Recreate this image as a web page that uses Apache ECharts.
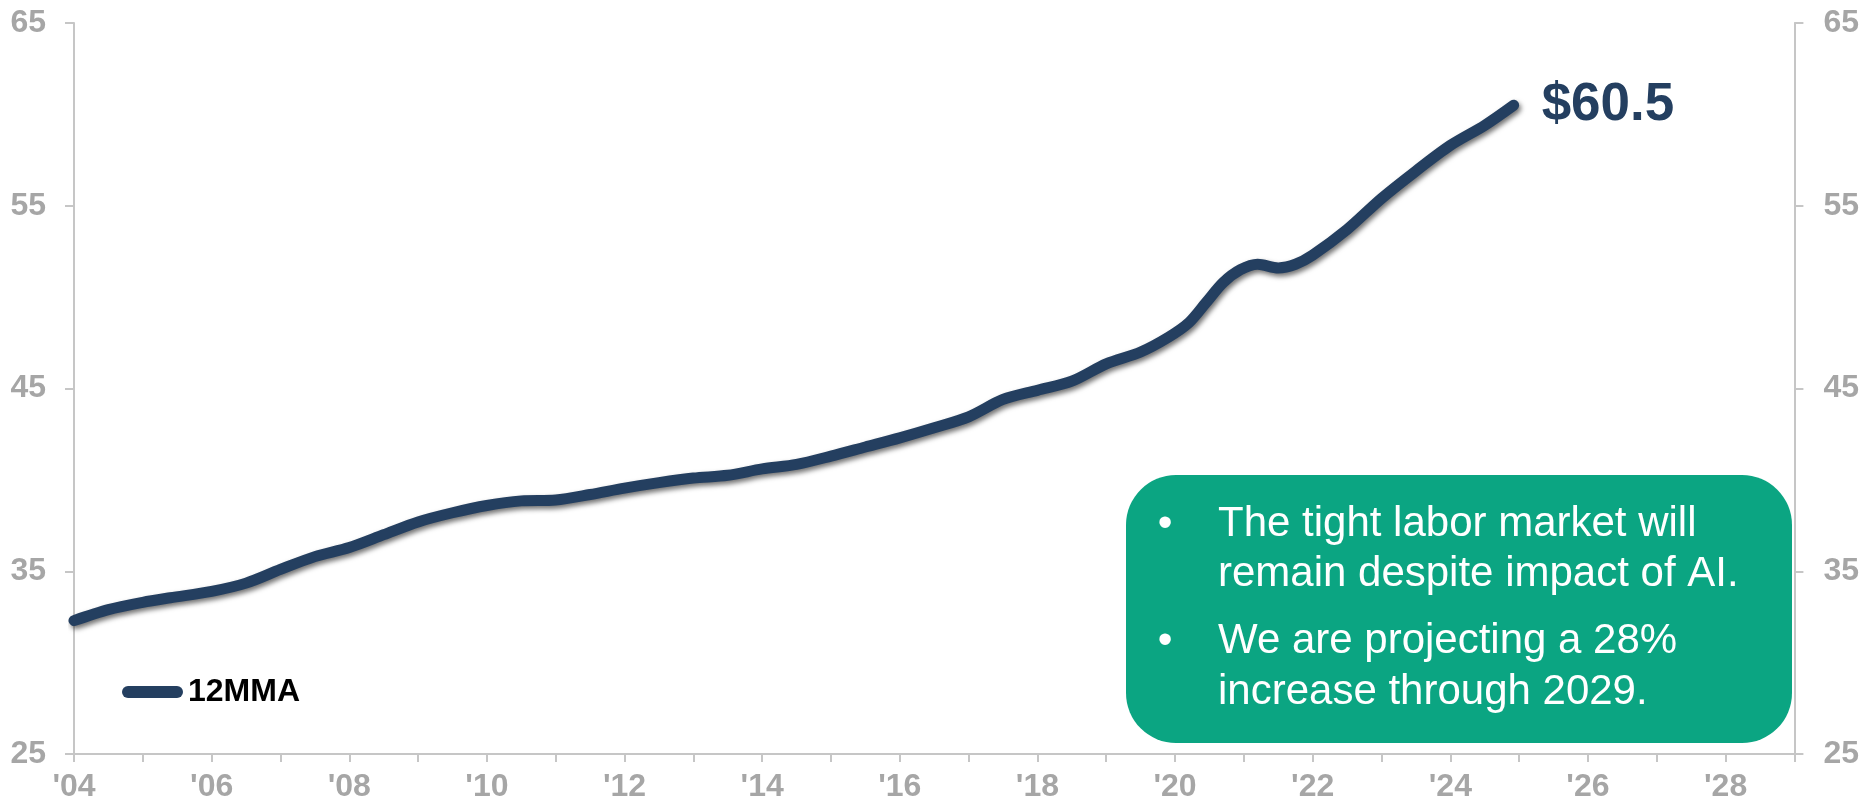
<!DOCTYPE html>
<html>
<head>
<meta charset="utf-8">
<script src="https://cdn.jsdelivr.net/npm/echarts@6/dist/echarts.min.js"></script>
<style>
html,body{margin:0;padding:0;background:#fff;}
#chart{width:1862px;height:805px;}
</style>
</head>
<body>
<div id="chart"></div>
<script>
// Decimal year of each reading (12-month moving average)
const dates = [2004.0, 2004.5, 2005.0, 2005.4, 2006.0, 2006.5, 2007.0, 2007.5, 2008.0, 2008.5,
  2009.0, 2009.5, 2010.0, 2010.5, 2011.0, 2011.5, 2012.0, 2012.5, 2013.0, 2013.5,
  2014.0, 2014.5, 2015.0, 2015.5, 2016.0, 2016.5, 2017.0, 2017.5, 2018.0, 2018.5,
  2019.0, 2019.5, 2019.9, 2020.2, 2020.45, 2020.7, 2020.95, 2021.2, 2021.5, 2021.75,
  2022.0, 2022.5, 2023.0, 2023.5, 2024.0, 2024.5, 2024.92];
const values = [32.3, 32.9, 33.3, 33.55, 33.9, 34.35, 35.1, 35.8, 36.3, 37.0,
  37.7, 38.2, 38.6, 38.85, 38.9, 39.2, 39.55, 39.85, 40.1, 40.25,
  40.6, 40.85, 41.3, 41.8, 42.3, 42.85, 43.45, 44.4, 44.9, 45.4,
  46.35, 47.0, 47.8, 48.6, 49.7, 50.8, 51.5, 51.8, 51.6, 51.8,
  52.3, 53.7, 55.4, 56.9, 58.3, 59.4, 60.5];
const seriesName = '12MMA';
const yTicks = [25, 35, 45, 55, 65];
const xMin = 2004, xMax = 2029;
const bullets = [
  ['The tight labor market will', 'remain despite impact of AI.'],
  ['We are projecting a 28%', 'increase through 2029.']
];

const FONT = "'Liberation Sans', Arial, sans-serif";
const NAVY = '#243F60';
const GRAY = '#A6A6A6';
const AXIS = '#C6C6C6';

const chart = echarts.init(document.getElementById('chart'));

const yAxisBase = (pos, margin) => ({
  type: 'value', position: pos, min: 25, max: 65, interval: 5,
  axisLine: {show: true, lineStyle: {color: AXIS, width: 2}},
  axisTick: {show: true, length: 9, customValues: yTicks, lineStyle: {color: AXIS, width: 2}},
  axisLabel: {show: true, customValues: yTicks, margin: margin, color: GRAY,
    fontSize: 32, fontWeight: 'bold', fontFamily: FONT},
  splitLine: {show: false}
});

// Annotation box graphics
const boxX = 1126, boxY = 475, boxW = 666, boxH = 268;
const lineYs = [[524, 574], [641, 692]];
const graphics = [{
  type: 'rect', shape: {x: boxX, y: boxY, width: boxW, height: boxH, r: 50},
  style: {fill: '#0BA582'}, z: 10
}];
bullets.forEach((lines, i) => {
  graphics.push({type: 'text', x: 1165, y: lineYs[i][0], z: 11,
    style: {text: '\u2022', fill: '#fff', font: '42px ' + FONT, align: 'center', verticalAlign: 'middle'}});
  lines.forEach((t, j) => {
    graphics.push({type: 'text', x: 1218, y: lineYs[i][j], z: 11,
      style: {text: t, fill: '#fff', font: '42px ' + FONT, align: 'left', verticalAlign: 'middle'}});
  });
});

const option = {
  animation: false,
  backgroundColor: '#fff',
  grid: {left: 74, right: 65, top: 23, bottom: 51, containLabel: false},
  legend: {
    show: true, left: 122, top: 676, orient: 'horizontal', padding: 0,
    data: [{name: seriesName, icon: 'path://M6,0 H55 A6,6 0 0 1 55,12 H6 A6,6 0 0 1 6,0 Z'}],
    itemWidth: 61, itemHeight: 12,
    itemStyle: {color: NAVY, shadowBlur: 0, shadowColor: 'transparent'},
    textStyle: {color: '#000', fontSize: 32, fontWeight: 'bold', fontFamily: FONT}
  },
  xAxis: {
    type: 'value', min: xMin, max: xMax, interval: 1,
    axisLine: {show: true, lineStyle: {color: AXIS, width: 2}},
    axisTick: {show: true, length: 8, inside: false, lineStyle: {color: AXIS, width: 2}},
    axisLabel: {
      margin: 17, color: GRAY, fontSize: 32, fontWeight: 'bold', fontFamily: FONT,
      formatter: v => (v % 2 === 0 ? "'" + String(v).slice(2) : '')
    },
    splitLine: {show: false}
  },
  yAxis: [yAxisBase('left', 28), yAxisBase('right', 29)],
  series: [{
    name: seriesName, type: 'line', yAxisIndex: 0,
    data: dates.map((d, i) => [d, values[i]]),
    symbol: 'none', smooth: 0.3,
    lineStyle: {color: NAVY, width: 11, cap: 'round', join: 'round',
      shadowColor: 'rgba(0,0,0,0.55)', shadowBlur: 5, shadowOffsetX: 2, shadowOffsetY: 3},
    itemStyle: {color: NAVY},
    endLabel: {show: true, distance: 28, color: NAVY, fontSize: 53, fontWeight: 'bold', fontFamily: FONT,
      formatter: p => '$' + p.value[1].toFixed(1)}
  }],
  graphic: graphics
};
chart.setOption(option);
</script>
</body>
</html>
